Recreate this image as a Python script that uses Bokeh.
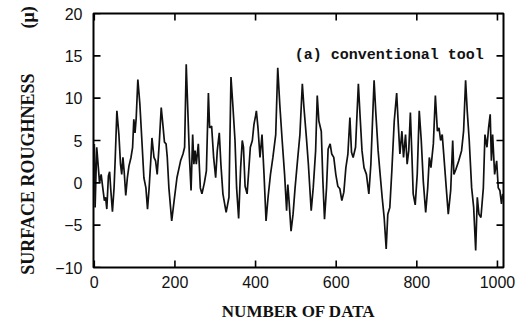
from bokeh.plotting import figure
from bokeh.models import Label, Range1d, FixedTicker
from bokeh.embed import file_html
from bokeh.resources import INLINE

# ---- data ----
sample_index = [0, 2, 6, 10, 13, 17, 21, 25, 28, 31, 35, 38, 41, 45, 49, 52, 56, 61, 65, 68,
                71, 74, 78, 82, 86, 91, 95, 98, 101, 104, 108, 113, 118, 123, 128, 132, 136, 140, 143, 148,
                152, 156, 161, 166, 170, 174, 178, 181, 185, 192, 198, 205, 214, 220, 224, 228, 232, 236, 240, 244,
                247, 250, 253, 258, 263, 267, 273, 278, 283, 286, 291, 296, 301, 305, 310, 314, 319, 327, 334, 339,
                344, 349, 353, 358, 363, 367, 370, 374, 379, 383, 387, 392, 396, 400, 402, 406, 411, 416, 421, 426,
                431, 437, 443, 450, 455, 460, 466, 472, 477, 480, 483, 488, 493, 498, 504, 510, 516, 520, 526, 531,
                538, 543, 549, 553, 557, 563, 567, 571, 576, 580, 585, 589, 594, 599, 604, 609, 614, 619, 624, 629,
                634, 638, 642, 648, 655, 659, 664, 669, 675, 681, 686, 694, 698, 704, 709, 714, 719, 724, 728, 733,
                738, 744, 750, 754, 758, 763, 767, 772, 776, 780, 784, 788, 791, 796, 801, 806, 811, 816, 822, 827,
                831, 835, 841, 846, 851, 855, 859, 863, 868, 873, 878, 884, 889, 892, 897, 904, 911, 916, 921, 925,
                930, 936, 941, 946, 950, 954, 959, 965, 969, 974, 978, 982, 985, 988, 993, 998, 1002, 1006, 1010, 1013]
roughness = [4.6, -2.9, 4.2, 1.8, 0.0, 1.0, -0.6, -2.1, -1.7, -3.1, 0.8, 1.3, -0.9, -3.4, -0.6, 3.0, 8.5, 5.7, 2.2, 1.0,
             3.0, 1.4, -1.5, 0.6, 2.0, 3.0, 4.2, 7.5, 5.9, 7.7, 12.2, 9.3, 5.0, 0.6, -0.6, -3.1, -0.6, 2.6, 5.3, 3.0,
             2.6, 1.0, 4.6, 8.9, 6.9, 4.8, 4.6, 3.0, -0.6, -4.5, -2.1, 0.6, 2.6, 3.4, 4.2, 14.0, 8.5, 3.0, -0.9, 5.7,
             2.2, 3.8, 2.2, 4.6, -0.6, -1.3, 0.0, 1.4, 10.6, 6.5, 6.7, 3.0, 0.6, 3.8, 5.9, 2.2, -1.3, -3.5, -1.7, 12.5,
             8.9, 5.0, -0.6, -4.2, 1.8, 5.0, 4.2, -0.4, -1.3, 1.4, 4.2, 5.0, 6.9, 7.9, 8.5, 6.5, 3.0, 5.7, 1.0, -4.5,
             -1.7, 1.0, 3.0, 5.7, 13.6, 9.3, 5.0, 1.0, -3.3, -0.2, -2.1, -5.7, -3.7, -0.6, 2.6, 5.7, 11.7, 8.9, 5.4, 2.2,
             -3.3, -0.6, 3.8, 10.3, 7.3, 6.1, 0.2, -4.3, -0.6, 4.0, 4.6, 3.4, 3.0, 1.0, -0.4, -0.7, -2.1, -1.1, 1.8, 3.4,
             7.7, 3.6, 3.0, 4.2, 11.7, 8.1, 3.8, 1.8, 1.0, -1.3, 2.2, 12.1, 8.5, 3.8, 1.0, -1.7, -4.1, -7.8, -3.7, -2.9,
             1.4, 7.3, 10.6, 6.9, 3.4, 6.1, 3.0, 5.7, 2.2, 3.8, 8.3, 3.0, -1.3, -2.6, 1.0, 8.5, 5.0, 0.2, -3.5, -0.6,
             3.0, 1.8, 4.6, 10.3, 6.1, 6.5, 5.0, 5.7, 2.6, -0.6, -3.7, -0.9, 5.0, 1.0, 1.6, 2.6, 3.8, 6.1, 12.1, 8.5,
             5.0, -0.6, -2.9, -8.0, -1.7, -3.7, -4.1, -0.6, 5.7, 4.2, 6.5, 8.1, 2.6, 5.7, 1.0, 2.6, -0.6, -0.9, -2.5, -1.3]

x_ticks = [0, 200, 400, 600, 800, 1000]
y_ticks = [-10, -5, 0, 5, 10, 15, 20]
y_tick_labels = {-10: "\u221210", -5: "\u22125", 0: "0", 5: "5", 10: "10", 15: "15", 20: "20"}
x_title = "NUMBER OF DATA"
y_title = "SURFACE ROUGHNESS" + "\u00a0" * 10 + "(\u03bc)"
panel_note = "(a) conventional tool"

x_lo, x_hi = -2, 1015
y_lo, y_hi = -10, 20

p = figure(width=529, height=326, output_backend="svg", toolbar_location=None,
           x_range=Range1d(x_lo, x_hi), y_range=Range1d(y_lo, y_hi),
           min_border_left=93, min_border_right=26, min_border_top=13, min_border_bottom=59)
p.background_fill_color = "white"
p.border_fill_color = "white"
p.xgrid.visible = False
p.ygrid.visible = False
p.outline_line_color = "black"
p.outline_line_width = 2

p.line(sample_index, roughness, line_color="#111111", line_width=1.7)

# inward tick marks on all four edges, ~7 px long (drawn from the tick lists)
frame_w_px, frame_h_px = 410, 254
tick_px = 7
dx = tick_px * (x_hi - x_lo) / frame_w_px
dy = tick_px * (y_hi - y_lo) / frame_h_px
n_x, n_y = len(x_ticks), len(y_ticks)
p.segment(x0=x_ticks, y0=[y_lo] * n_x, x1=x_ticks, y1=[y_lo + dy] * n_x, line_color="black", line_width=1.6)
p.segment(x0=x_ticks, y0=[y_hi] * n_x, x1=x_ticks, y1=[y_hi - dy] * n_x, line_color="black", line_width=1.6)
p.segment(x0=[x_lo] * n_y, y0=y_ticks, x1=[x_lo + dx] * n_y, y1=y_ticks, line_color="black", line_width=1.6)
p.segment(x0=[x_hi] * n_y, y0=y_ticks, x1=[x_hi - dx] * n_y, y1=y_ticks, line_color="black", line_width=1.6)

tick_font = "Liberation Sans"
for ax in p.xaxis:
    ax.ticker = FixedTicker(ticks=x_ticks)
    ax.minor_tick_line_color = None
    ax.major_tick_line_color = None
    ax.major_tick_in = 0
    ax.major_tick_out = 0
    ax.minor_tick_in = 0
    ax.minor_tick_out = 0
    ax.axis_line_color = None
    ax.major_label_text_font = tick_font
    ax.major_label_text_font_size = "16px"
    ax.major_label_text_color = "#111111"
    ax.major_label_standoff = 8
    ax.axis_label = x_title
    ax.axis_label_text_font = "Liberation Serif"
    ax.axis_label_text_font_style = "bold"
    ax.axis_label_text_font_size = "17px"
    ax.axis_label_text_color = "#111111"
    ax.axis_label_standoff = 11

for ax in p.yaxis:
    ax.ticker = FixedTicker(ticks=y_ticks)
    ax.major_label_overrides = y_tick_labels
    ax.minor_tick_line_color = None
    ax.major_tick_line_color = None
    ax.major_tick_in = 0
    ax.major_tick_out = 0
    ax.minor_tick_in = 0
    ax.minor_tick_out = 0
    ax.axis_line_color = None
    ax.major_label_text_font = tick_font
    ax.major_label_text_font_size = "16px"
    ax.major_label_text_color = "#111111"
    ax.major_label_standoff = 11
    ax.axis_label = y_title
    ax.axis_label_text_font = "Liberation Serif"
    ax.axis_label_text_font_style = "bold"
    ax.axis_label_text_font_size = "18px"
    ax.axis_label_text_color = "#111111"
    ax.axis_label_standoff = 14

p.add_layout(Label(x=966, y=15, text=panel_note, text_align="right", text_baseline="middle",
                   text_font="Liberation Mono", text_font_style="bold", text_font_size="15px",
                   text_color="#111111"))

open("out.html", "w").write(file_html(p, INLINE))
